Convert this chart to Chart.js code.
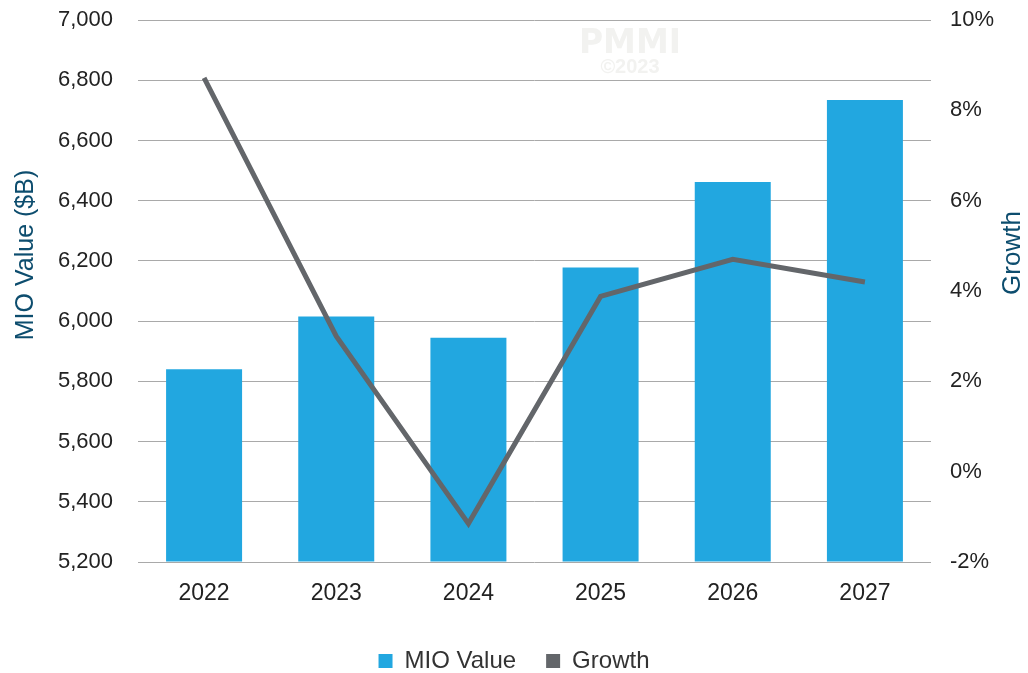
<!DOCTYPE html>
<html>
<head>
<meta charset="utf-8">
<script src="https://cdn.jsdelivr.net/npm/chart.js@4.4.0/dist/chart.umd.min.js"></script>
<style>
html,body{margin:0;padding:0;background:#fff;}
#wrap{width:1028px;height:673px;}
</style>
</head>
<body>
<div id="wrap"><canvas id="c" width="1028" height="673"></canvas></div>
<script>
const categories = ['2022', '2023', '2024', '2025', '2026', '2027'];
const mioValue = [5840, 6015, 5945, 6178, 6462, 6734];
const growth = [8.72, 3.0, -1.15, 3.88, 4.7, 4.2];
const leftTicks = {min: 5200, max: 7000, step: 200};
const rightTicks = {min: -2, max: 10, step: 2};

const FONT = "'Liberation Sans', Arial, sans-serif";
const TITLE_COLOR = '#0d4d6e';

const extras = {
  id: 'extras',
  beforeDatasetsDraw(chart) {
    const ctx = chart.ctx;
    ctx.save();
    ctx.fillStyle = '#f2f2f0';
    ctx.textAlign = 'center';
    ctx.textBaseline = 'alphabetic';
    ctx.font = "bold 33px 'DejaVu Sans', sans-serif";
    ctx.fillText('PMMI', 630, 53);
    ctx.font = 'bold 20px ' + FONT;
    ctx.fillText('\u00A92023', 630, 73);
    ctx.restore();
  },
  afterDraw(chart) {
    const ctx = chart.ctx;
    ctx.save();
    ctx.fillStyle = TITLE_COLOR;
    ctx.textAlign = 'center';
    ctx.textBaseline = 'middle';
    ctx.font = '25px ' + FONT;
    ctx.translate(26, 255);
    ctx.rotate(-Math.PI / 2);
    ctx.fillText('MIO Value ($B)', 0, 0);
    ctx.restore();
    ctx.save();
    ctx.fillStyle = TITLE_COLOR;
    ctx.textAlign = 'center';
    ctx.textBaseline = 'middle';
    ctx.font = '26px ' + FONT;
    ctx.translate(1013, 253);
    ctx.rotate(-Math.PI / 2);
    ctx.fillText('Growth', 0, 0);
    ctx.restore();
  }
};

new Chart(document.getElementById('c'), {
  data: {
    labels: categories,
    datasets: [
      {
        type: 'line',
        label: 'Growth',
        data: growth,
        yAxisID: 'y1',
        borderColor: '#63666a',
        backgroundColor: '#63666a',
        borderWidth: 5,
        pointRadius: 0,
        tension: 0,
        order: 0
      },
      {
        type: 'bar',
        label: 'MIO Value',
        data: mioValue,
        yAxisID: 'y',
        backgroundColor: '#22a7e0',
        barPercentage: 0.575,
        categoryPercentage: 1.0,
        base: leftTicks.min,
        order: 1
      }
    ]
  },
  plugins: [extras],
  options: {
    responsive: false,
    animation: false,
    devicePixelRatio: 1,
    layout: {padding: {top: 20, bottom: -10, left: 0, right: 0}},
    plugins: {
      tooltip: {enabled: false},
      legend: {
        position: 'bottom',
        reverse: true,
        labels: {
          color: '#333333',
          font: {family: FONT, size: 24},
          boxWidth: 14,
          boxHeight: 14,
          padding: 30,
          generateLabels(chart) {
            return chart.data.datasets.map((ds, i) => ({
              text: ds.label,
              fillStyle: ds.backgroundColor,
              strokeStyle: ds.backgroundColor,
              lineWidth: 0,
              hidden: false,
              datasetIndex: i,
              fontColor: '#333333'
            }));
          }
        }
      }
    },
    scales: {
      x: {
        grid: {display: false, drawTicks: false},
        border: {display: false},
        ticks: {color: '#222222', font: {family: FONT, size: 23}, padding: 18},
        afterFit(s) { s.height = 57; }
      },
      y: {
        position: 'left',
        min: leftTicks.min,
        max: leftTicks.max,
        grid: {color: '#a9a9a9', lineWidth: 1, drawTicks: true, tickLength: 25, tickColor: 'rgba(0,0,0,0)'},
        border: {display: false},
        ticks: {
          stepSize: leftTicks.step,
          color: '#222222',
          font: {family: FONT, size: 22},
          padding: 0,
          callback: v => v.toLocaleString('en-US')
        },
        afterFit(s) { s.width = 138; }
      },
      y1: {
        position: 'right',
        min: rightTicks.min,
        max: rightTicks.max,
        grid: {display: true, drawOnChartArea: false, drawTicks: true, tickLength: 19, color: 'rgba(0,0,0,0)', tickColor: 'rgba(0,0,0,0)'},
        border: {display: false},
        ticks: {
          stepSize: rightTicks.step,
          color: '#222222',
          font: {family: FONT, size: 22},
          padding: 0,
          callback: v => v + '%'
        },
        afterFit(s) { s.width = 97; }
      }
    }
  }
});
</script>
</body>
</html>
